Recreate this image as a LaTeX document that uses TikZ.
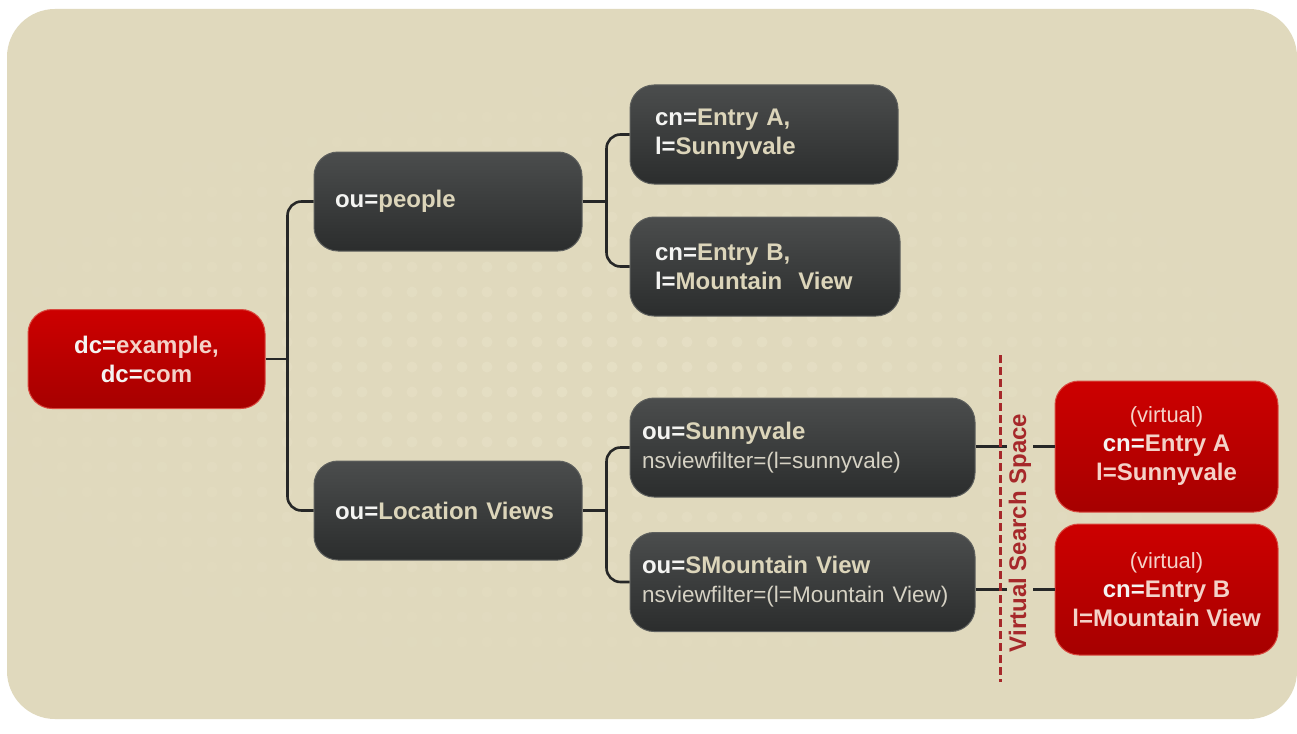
\documentclass[tikz,border=0pt]{standalone}
\usepackage{fontspec}
\setmainfont{Liberation Sans}
\usetikzlibrary{calc}

\definecolor{bg}{HTML}{E0D9BD}
\definecolor{dotc}{HTML}{EBE5CC}
\definecolor{darktop}{HTML}{4B4D4D}
\definecolor{darkbot}{HTML}{2B2D2D}
\definecolor{darkedge}{HTML}{5E605E}
\definecolor{redtop}{HTML}{CD0000}
\definecolor{redbot}{HTML}{A60000}
\definecolor{rededge}{HTML}{D84A40}
\definecolor{keytxt}{HTML}{F4F4F2}
\definecolor{valtxt}{HTML}{DCD5BA}
\definecolor{subtxt}{HTML}{D6D2C4}
\definecolor{pinktxt}{HTML}{F4D2C8}
\definecolor{wire}{HTML}{262727}
\definecolor{dashred}{HTML}{A6282A}

\tikzset{
  box/.style={rounded corners=24pt, line width=1pt, minimum height=99pt, inner ysep=0pt},
  darkbox/.style={box, top color=darktop, bottom color=darkbot, draw=darkedge,
    align=left, text=valtxt},
  redbox/.style={box, top color=redtop, bottom color=redbot, draw=rededge,
    align=center, text=pinktxt},
  wireline/.style={draw=wire, line width=2.6pt, rounded corners=14pt},
  dashline/.style={draw=dashred, line width=3pt, dash pattern=on 8pt off 4pt},
  big/.style={font=\fontsize{24}{29}\selectfont\bfseries},
}
\newcommand{\keyw}[1]{\textcolor{keytxt}{#1}}
\newcommand{\subline}[1]{{\fontsize{22.5}{30}\selectfont\mdseries\textcolor{subtxt}{#1}}}

\begin{document}
\begin{tikzpicture}[x=1pt,y=-1pt]
  \useasboundingbox (0,0) rectangle (1297,733);
  % backdrop panel
  \fill[white] (0,0) rectangle (1297,733);
  \path[fill=bg, rounded corners=48pt] (7,9) rectangle (1297,719);
  % faint dotted texture, fading out from the middle
  \begin{scope}
    \clip[rounded corners=48pt] (7,9) rectangle (1297,719);
    \foreach \i in {0,...,52} {
      \foreach \j in {0,...,28} {
        \pgfmathsetmacro{\px}{12+25*\i}
        \pgfmathsetmacro{\py}{17+25*\j}
        \pgfmathsetmacro{\dd}{sqrt(((\px-620)/720)^2+((\py-380)/330)^2)}
        \pgfmathsetmacro{\op}{max(0,0.55*(1-\dd))}
        \fill[dotc, opacity=\op] (\px,\py) circle (5.5pt);
      }
    }
  \end{scope}

  % entries
  \node[redbox, big, minimum width=237pt] (root) at (146.5,359)
    {\keyw{dc=}example,\\\keyw{dc=}com};
  \node[darkbox, big, text width=226pt, inner xsep=21pt] (people) at (448,201.5)
    {\keyw{ou=}people};
  \node[darkbox, big, text width=226pt, inner xsep=21pt] (locv) at (448,510.5)
    {\keyw{ou=}Location Views};
  \node[darkbox, big, text width=218pt, inner xsep=25pt] (ea) at (764,134.5)
    {\keyw{cn=}Entry A,\\\keyw{l=}Sunnyvale};
  \node[darkbox, big, text width=220pt, inner xsep=25pt] (eb) at (765,266.5)
    {\keyw{cn=}Entry B,\\\keyw{l=}Mountain\ \ View};
  \node[darkbox, big, text width=321pt, inner xsep=12pt] (sv) at (802.5,447.5)
    {\keyw{ou=}Sunnyvale\\\subline{nsviewfilter=(l=sunnyvale)}};
  \node[darkbox, big, text width=321pt, inner xsep=12pt] (mv) at (802.5,582)
    {\keyw{ou=}SMountain View\\\subline{nsviewfilter=(l=Mountain View)}};
  \node[redbox, big, minimum width=223pt, minimum height=131pt] (va) at (1166.5,446.5)
    {{\mdseries\fontsize{22}{31}\selectfont (virtual)}\\\keyw{cn=}Entry A\\l=Sunnyvale};
  \node[redbox, big, minimum width=223pt, minimum height=131pt] (vb) at (1166.5,589.5)
    {{\mdseries\fontsize{22}{31}\selectfont (virtual)}\\\keyw{cn=}Entry B\\l=Mountain View};

  % tree connectors
  \draw[wireline] (root.east) -- ++(22,0) coordinate (j0);
  \draw[wireline] (people.west) -| (j0) |- (locv.west);
  \draw[wireline] (people.east) -- ++(24,0) coordinate (j1);
  \draw[wireline] (ea.west) -| (j1) |- (eb.west);
  \draw[wireline] (locv.east) -- ++(24,0) coordinate (j2);
  \draw[wireline] (sv.west) -| (j2) |- (mv.west);
  \draw[wireline] (sv.east |- va.west) -- (va.west);
  \draw[wireline] (mv.east |- vb.west) -- (vb.west);

  % boundary of the virtual search space
  \coordinate (dtop) at (1000,355);
  \coordinate (dbot) at (1000,682);
  \draw[dashline] (dtop) -- (dbot);
  \node[rotate=90, fill=bg, inner sep=1.5pt, text=dashred,
        font=\fontsize{24}{28}\selectfont\bfseries] (vss) at (1020,533)
    {Virtual Search Space};
\end{tikzpicture}
\end{document}
